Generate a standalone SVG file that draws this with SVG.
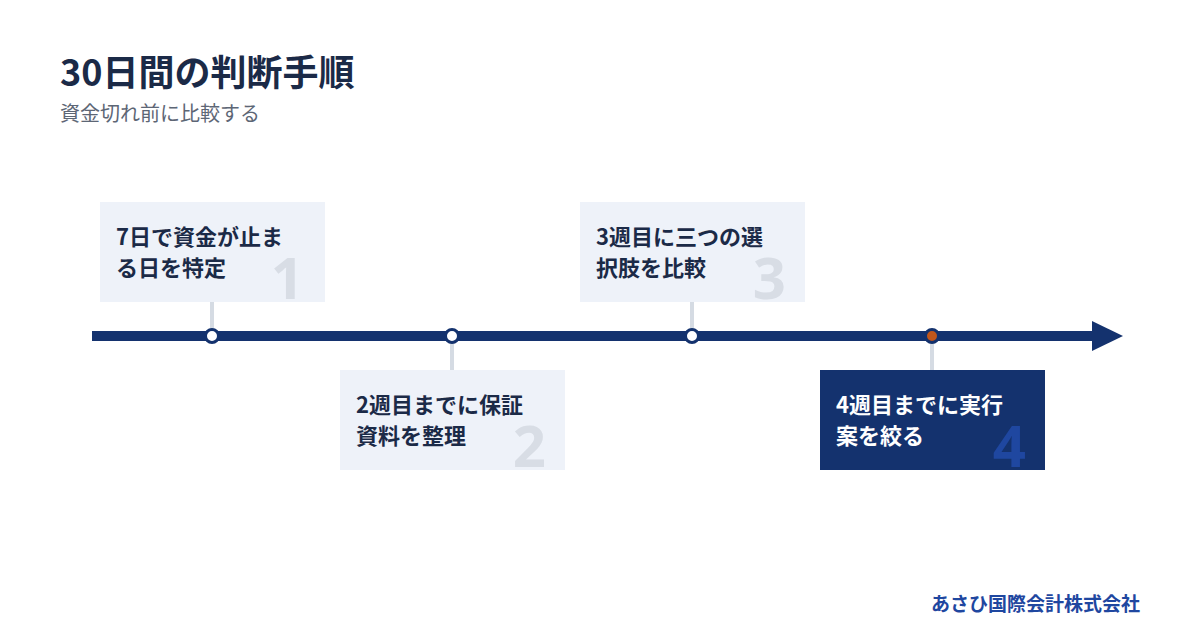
<svg xmlns="http://www.w3.org/2000/svg" width="1200" height="630" viewBox="0 0 1200 630">
<style>
text{font-family:"Noto Sans CJK JP","Noto Sans",sans-serif}
.t{font-size:22px;font-weight:700;fill:#1b2a47}
.tw{font-size:22px;font-weight:700;fill:#ffffff}
.n{font-size:58px;font-weight:700;fill:#d8dde5;text-anchor:end;font-family:"Noto Sans","Liberation Sans",sans-serif}
.box{fill:#eef2f9}
.stem{stroke:#d5dbe3;stroke-width:4}
.dot{fill:#ffffff;stroke:#14326e;stroke-width:3}
</style>
<rect width="1200" height="630" fill="#ffffff"/>
<text x="60" y="86" font-size="36" font-weight="700" fill="#1b2a47">30日間の判断手順</text>
<text x="60" y="121" font-size="20" fill="#5d6675">資金切れ前に比較する</text>
<g id="connectors">
<line class="stem" x1="212" y1="302" x2="212" y2="336"/>
<line class="stem" x1="452" y1="336" x2="452" y2="370"/>
<line class="stem" x1="692" y1="302" x2="692" y2="336"/>
<line class="stem" x1="932" y1="336" x2="932" y2="370"/>
<line x1="92" y1="336" x2="1095" y2="336" stroke="#14326e" stroke-width="10"/>
<polygon points="1092,321 1123,336 1092,351" fill="#14326e"/>
<circle class="dot" cx="212" cy="336" r="6.5"/>
<circle class="dot" cx="452" cy="336" r="6.5"/>
<circle class="dot" cx="692" cy="336" r="6.5"/>
<circle cx="932" cy="336" r="6.5" fill="#c0561b" stroke="#14326e" stroke-width="3"/>
</g>
<g id="step1">
<rect class="box" x="100" y="202" width="225" height="100"/>
<text class="n" x="304" y="299">1</text>
<text class="t" x="116" y="245">7日で資金が止ま</text>
<text class="t" x="116" y="276">る日を特定</text>
</g>
<g id="step2">
<rect class="box" x="340" y="370" width="225" height="100"/>
<text class="n" x="546" y="467">2</text>
<text class="t" x="356" y="413">2週目までに保証</text>
<text class="t" x="356" y="444">資料を整理</text>
</g>
<g id="step3">
<rect class="box" x="580" y="202" width="225" height="100"/>
<text class="n" x="786" y="299">3</text>
<text class="t" x="596" y="245">3週目に三つの選</text>
<text class="t" x="596" y="276">択肢を比較</text>
</g>
<g id="step4">
<rect x="820" y="370" width="225" height="100" fill="#14326e"/>
<text class="n" x="1026" y="467" style="fill:#1f47a0">4</text>
<text class="tw" x="836" y="413">4週目までに実行</text>
<text class="tw" x="836" y="444">案を絞る</text>
</g>
<text x="1140" y="611" font-size="19" font-weight="700" fill="#1f47a0" text-anchor="end">あさひ国際会計株式会社</text>
</svg>
